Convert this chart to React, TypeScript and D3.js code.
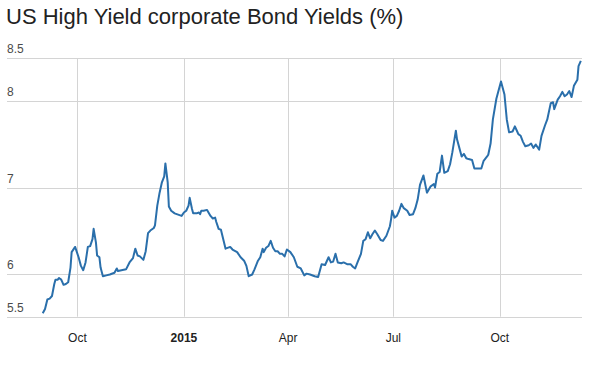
import React, { useEffect, useRef } from "react";
import * as d3 from "d3";

// US high yield corporate bond yields
const dates = [
  "2014-09-01", "2014-09-03", "2014-09-05", "2014-09-07", "2014-09-09", "2014-09-11", "2014-09-12",
  "2014-09-14", "2014-09-15", "2014-09-17", "2014-09-19", "2014-09-21", "2014-09-23", "2014-09-25",
  "2014-09-26", "2014-09-29", "2014-10-02", "2014-10-04", "2014-10-06", "2014-10-08", "2014-10-10",
  "2014-10-12", "2014-10-14", "2014-10-15", "2014-10-17", "2014-10-18", "2014-10-20", "2014-10-21",
  "2014-10-23", "2014-10-26", "2014-10-29", "2014-11-02", "2014-11-04", "2014-11-05", "2014-11-12",
  "2014-11-15", "2014-11-18", "2014-11-20", "2014-11-22", "2014-11-24", "2014-11-27", "2014-11-29",
  "2014-12-01", "2014-12-03", "2014-12-06", "2014-12-07", "2014-12-09", "2014-12-11", "2014-12-13",
  "2014-12-15", "2014-12-16", "2014-12-18", "2014-12-19", "2014-12-21", "2014-12-24", "2014-12-30",
  "2015-01-01", "2015-01-03", "2015-01-05", "2015-01-06", "2015-01-08", "2015-01-09", "2015-01-12",
  "2015-01-14", "2015-01-15", "2015-01-16", "2015-01-18", "2015-01-21", "2015-01-24", "2015-01-26",
  "2015-01-28", "2015-01-29", "2015-01-31", "2015-02-02", "2015-02-04", "2015-02-06", "2015-02-10",
  "2015-02-12", "2015-02-16", "2015-02-19", "2015-02-22", "2015-02-24", "2015-02-26", "2015-03-01",
  "2015-03-03", "2015-03-06", "2015-03-08", "2015-03-10", "2015-03-11", "2015-03-13", "2015-03-15",
  "2015-03-17", "2015-03-19", "2015-03-21", "2015-03-23", "2015-03-25", "2015-03-27", "2015-03-29",
  "2015-03-31", "2015-04-03", "2015-04-06", "2015-04-09", "2015-04-12", "2015-04-15", "2015-04-17",
  "2015-04-20", "2015-04-24", "2015-04-27", "2015-04-30", "2015-05-03", "2015-05-06", "2015-05-08",
  "2015-05-10", "2015-05-12", "2015-05-14", "2015-05-17", "2015-05-19", "2015-05-22", "2015-05-25",
  "2015-05-27", "2015-05-29", "2015-05-31", "2015-06-03", "2015-06-05", "2015-06-07", "2015-06-09",
  "2015-06-11", "2015-06-13", "2015-06-15", "2015-06-17", "2015-06-20", "2015-06-22", "2015-06-25",
  "2015-06-28", "2015-06-29", "2015-06-30", "2015-07-02", "2015-07-04", "2015-07-06", "2015-07-08",
  "2015-07-10", "2015-07-13", "2015-07-15", "2015-07-18", "2015-07-20", "2015-07-22", "2015-07-24",
  "2015-07-27", "2015-07-30", "2015-08-02", "2015-08-05", "2015-08-06", "2015-08-08", "2015-08-10",
  "2015-08-12", "2015-08-14", "2015-08-17", "2015-08-19", "2015-08-21", "2015-08-24", "2015-08-25",
  "2015-08-27", "2015-08-29", "2015-08-31", "2015-09-02", "2015-09-04", "2015-09-07", "2015-09-09",
  "2015-09-12", "2015-09-15", "2015-09-17", "2015-09-20", "2015-09-21", "2015-09-23", "2015-09-25",
  "2015-09-28", "2015-10-02", "2015-10-05", "2015-10-07", "2015-10-09", "2015-10-12", "2015-10-14",
  "2015-10-16", "2015-10-17", "2015-10-19", "2015-10-21", "2015-10-23", "2015-10-26", "2015-10-28",
  "2015-10-30", "2015-11-01", "2015-11-03", "2015-11-04", "2015-11-06", "2015-11-09", "2015-11-11",
  "2015-11-14", "2015-11-16", "2015-11-17", "2015-11-20", "2015-11-22", "2015-11-24", "2015-11-26",
  "2015-11-28", "2015-11-30", "2015-12-02", "2015-12-04", "2015-12-07", "2015-12-08", "2015-12-10",
];

const yields = [
  5.54, 5.59, 5.70, 5.71, 5.74, 5.88, 5.93,
  5.93, 5.95, 5.93, 5.87, 5.88, 5.90, 6.07,
  6.25, 6.31, 6.19, 6.09, 6.04, 6.13, 6.31,
  6.32, 6.40, 6.52, 6.36, 6.21, 6.19, 6.07,
  5.97, 5.98, 5.99, 6.01, 6.06, 6.03, 6.05,
  6.13, 6.18, 6.29, 6.21, 6.20, 6.16, 6.26,
  6.47, 6.50, 6.53, 6.56, 6.79, 6.94, 7.06,
  7.13, 7.28, 7.06, 6.78, 6.73, 6.70, 6.67,
  6.71, 6.73, 6.79, 6.88, 6.75, 6.70, 6.70,
  6.71, 6.69, 6.73, 6.73, 6.74, 6.67, 6.64,
  6.65, 6.60, 6.52, 6.51, 6.40, 6.29, 6.31,
  6.28, 6.25, 6.19, 6.15, 6.09, 5.97, 5.99,
  6.05, 6.15, 6.19, 6.29, 6.25, 6.30, 6.32,
  6.38, 6.30, 6.26, 6.26, 6.23, 6.23, 6.20,
  6.28, 6.25, 6.19, 6.08, 6.06, 5.98, 6.00,
  5.99, 5.97, 5.96, 6.11, 6.10, 6.19, 6.13,
  6.14, 6.23, 6.13, 6.12, 6.13, 6.11, 6.11,
  6.08, 6.06, 6.13, 6.23, 6.38, 6.40, 6.48,
  6.41, 6.46, 6.50, 6.46, 6.39, 6.38, 6.44,
  6.55, 6.63, 6.73, 6.65, 6.67, 6.73, 6.81,
  6.76, 6.73, 6.68, 6.69, 6.76, 6.86, 7.03,
  7.14, 6.94, 7.01, 7.04, 7.00, 7.16, 7.18,
  7.37, 7.17, 7.19, 7.27, 7.41, 7.66, 7.56,
  7.46, 7.36, 7.39, 7.34, 7.33, 7.32, 7.22,
  7.22, 7.22, 7.31, 7.36, 7.38, 7.51, 7.79,
  8.03, 8.23, 8.08, 7.79, 7.64, 7.65, 7.71,
  7.65, 7.62, 7.60, 7.53, 7.48, 7.49, 7.51,
  7.46, 7.50, 7.46, 7.44, 7.60, 7.72, 7.79,
  7.98, 7.99, 7.91, 8.02, 8.06, 8.11, 8.06,
  8.08, 8.12, 8.05, 8.18, 8.25, 8.41, 8.47,
];

const yTicks = [5.5, 6, 7, 8, 8.5];
const xTickDates = ["2014-10-01", "2015-01-01", "2015-04-01", "2015-07-01", "2015-10-01"];
const xTickLabels = ["Oct", "2015", "Apr", "Jul", "Oct"];

const parse = d3.timeParse("%Y-%m-%d");

export default function App() {
  const ref = useRef<SVGSVGElement>(null);

  useEffect(() => {
    const W = 597,
      H = 367;
    const left = 8,
      right = 582,
      top = 58.3,
      bottom = 316.7;

    const data = dates.map((d, i) => ({ date: parse(d) as Date, v: yields[i] }));

    const svg = d3.select(ref.current).attr("width", W).attr("height", H);
    svg.selectAll("*").remove();

    svg
      .append("text")
      .attr("x", 6)
      .attr("y", 24)
      .attr("font-family", "Liberation Sans, Arial, sans-serif")
      .attr("font-size", "22px")
      .attr("fill", "#222")
      .text("US High Yield corporate Bond Yields (%)");

    const x = d3
      .scaleTime()
      .domain([parse("2014-08-02") as Date, parse("2015-12-11") as Date])
      .range([left, right]);

    const y = d3.scaleLinear().domain([5.5, 8.5]).range([bottom, top]);

    // horizontal grid + labels
    svg
      .selectAll(".hgrid")
      .data(yTicks)
      .join("line")
      .attr("class", "hgrid")
      .attr("x1", left - 1)
      .attr("x2", right)
      .attr("y1", (d) => Math.round(y(d)) + 0.5)
      .attr("y2", (d) => Math.round(y(d)) + 0.5)
      .attr("stroke", "#d4d4d4")
      .attr("stroke-width", 1);

    svg
      .selectAll(".ylab")
      .data(yTicks)
      .join("text")
      .attr("class", "ylab")
      .attr("x", 7)
      .attr("y", (d) => y(d) - 5)
      .attr("font-family", "Liberation Sans, Arial, sans-serif")
      .attr("font-size", "12px")
      .attr("fill", "#4a4a4a")
      .text((d) => String(d));

    // vertical grid + labels
    const xt = xTickDates.map((d, i) => ({ date: parse(d) as Date, label: xTickLabels[i] }));
    svg
      .selectAll(".vgrid")
      .data(xt)
      .join("line")
      .attr("class", "vgrid")
      .attr("x1", (d) => Math.round(x(d.date)) + 0.5)
      .attr("x2", (d) => Math.round(x(d.date)) + 0.5)
      .attr("y1", top)
      .attr("y2", bottom)
      .attr("stroke", "#d4d4d4")
      .attr("stroke-width", 1);

    svg
      .selectAll(".xlab")
      .data(xt)
      .join("text")
      .attr("class", "xlab")
      .attr("x", (d) => x(d.date))
      .attr("y", 342)
      .attr("text-anchor", "middle")
      .attr("font-family", "Liberation Sans, Arial, sans-serif")
      .attr("font-size", "12px")
      .attr("font-weight", (d) => (d.label === "2015" ? "bold" : "normal"))
      .attr("fill", "#222")
      .text((d) => d.label);

    const line = d3
      .line<{ date: Date; v: number }>()
      .x((d) => x(d.date))
      .y((d) => y(d.v));

    svg
      .append("path")
      .datum(data)
      .attr("d", line)
      .attr("fill", "none")
      .attr("stroke", "#2a6fab")
      .attr("stroke-width", 2)
      .attr("stroke-linejoin", "round");
  }, []);

  return <svg ref={ref} style={{ position: "absolute", left: 0, top: 0, background: "#fff" }} />;
}
